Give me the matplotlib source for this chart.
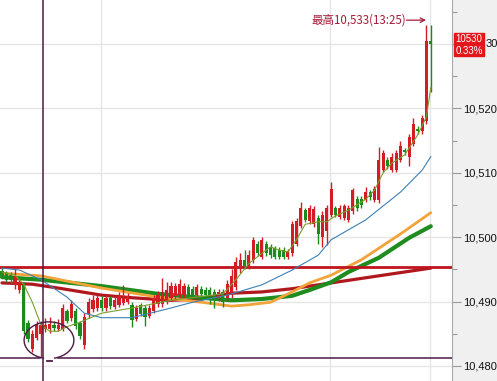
import matplotlib
matplotlib.use('Agg')
import matplotlib.pyplot as plt
from matplotlib.patches import Arc, Rectangle
import numpy as np

# ---------------- data ----------------
opens = [10494.8, 10494.5, 10494.2, 10492.6, 10491.8, 10492.6, 10486.6, 10482.6, 10484.4, 10485.0,
         10485.8, 10485.7, 10486.4, 10485.8, 10485.8, 10488.5, 10487.4, 10488.6, 10486.6, 10483.2,
         10488.0, 10488.8, 10489.0, 10490.3, 10489.0, 10490.5, 10489.2, 10489.5, 10489.8, 10490.0,
         10489.5, 10487.3, 10489.4, 10489.0, 10487.8, 10488.6, 10489.6, 10489.6, 10490.0, 10490.5,
         10490.8, 10491.0, 10491.0, 10492.3, 10492.0, 10491.0, 10492.0, 10491.8, 10491.8, 10491.5,
         10490.5, 10491.5, 10490.5, 10491.0, 10492.2, 10495.0, 10496.5, 10495.5, 10496.5, 10499.0,
         10497.0, 10499.0, 10498.5, 10498.3, 10498.0, 10498.0, 10497.0, 10497.5, 10499.0, 10501.8,
         10504.2, 10502.5, 10502.0, 10503.0, 10500.0, 10501.0, 10503.5, 10504.5, 10503.2, 10503.0,
         10502.7, 10504.0, 10506.0, 10506.0, 10505.8, 10507.0, 10505.8, 10505.7, 10510.5, 10512.0,
         10510.5, 10510.5, 10512.0, 10513.5, 10512.5, 10514.5, 10516.8, 10516.5, 10518.0, 10530.5]
closes = [10494.0, 10493.4, 10493.3, 10494.0, 10492.9, 10485.5, 10484.2, 10485.0, 10486.5, 10486.4,
          10486.3, 10486.5, 10485.9, 10486.4, 10489.0, 10487.0, 10489.6, 10486.2, 10484.6, 10487.6,
          10490.0, 10490.2, 10490.5, 10489.0, 10490.5, 10489.3, 10490.3, 10490.8, 10490.6, 10490.8,
          10487.2, 10489.0, 10488.1, 10487.6, 10489.0, 10490.5, 10491.0, 10491.5, 10491.8, 10492.4,
          10492.4, 10492.7, 10492.4, 10491.0, 10490.8, 10492.2, 10491.2, 10491.0, 10490.8, 10490.3,
          10491.5, 10490.0, 10492.8, 10494.0, 10496.2, 10496.5, 10495.5, 10497.2, 10499.5, 10497.5,
          10499.5, 10497.5, 10497.2, 10497.0, 10497.0, 10497.0, 10497.8, 10502.0, 10502.5, 10504.6,
          10502.7, 10504.5, 10504.3, 10500.5, 10503.5, 10504.5, 10507.5, 10503.5, 10504.5, 10504.8,
          10504.5, 10507.3, 10504.5, 10505.0, 10507.0, 10506.2, 10507.5, 10512.0, 10513.0, 10511.0,
          10512.5, 10513.0, 10514.2, 10513.2, 10515.5, 10517.5, 10516.5, 10518.5, 10530.5, 10530.0]
highs = [10495.3, 10494.8, 10494.6, 10495.0, 10493.5, 10493.0, 10487.2, 10485.6, 10487.0, 10487.0,
         10487.4, 10487.6, 10487.0, 10487.3, 10489.6, 10488.9, 10490.2, 10489.0, 10487.0, 10488.2,
         10490.6, 10491.0, 10491.0, 10490.8, 10491.0, 10490.9, 10490.8, 10491.5, 10492.6, 10491.3,
         10490.0, 10489.5, 10489.8, 10489.4, 10489.5, 10491.0, 10491.6, 10493.6, 10493.0, 10493.0,
         10492.9, 10493.5, 10492.9, 10492.7, 10492.4, 10492.8, 10492.4, 10492.2, 10492.2, 10491.9,
         10492.0, 10491.9, 10493.3, 10495.0, 10497.0, 10497.5, 10498.0, 10498.0, 10500.0, 10499.4,
         10500.0, 10499.4, 10498.9, 10498.7, 10498.4, 10498.4, 10498.2, 10502.5, 10503.0, 10505.5,
         10504.6, 10505.0, 10504.8, 10503.4, 10504.0, 10505.0, 10508.5, 10504.9, 10505.0, 10505.2,
         10505.0, 10507.7, 10506.4, 10506.4, 10507.8, 10507.4, 10508.0, 10514.0, 10513.6, 10512.4,
         10513.0, 10513.5, 10515.0, 10513.9, 10516.0, 10518.5, 10517.2, 10519.0, 10533.0, 10533.0]
lows = [10493.6, 10493.0, 10492.8, 10492.0, 10491.3, 10485.0, 10483.8, 10482.2, 10484.0, 10481.4,
        10485.3, 10485.2, 10485.4, 10485.4, 10485.4, 10486.6, 10487.0, 10485.8, 10484.2, 10482.6,
        10487.5, 10488.4, 10488.6, 10488.6, 10488.6, 10488.9, 10488.8, 10489.2, 10489.4, 10489.6,
        10486.0, 10487.0, 10487.8, 10486.2, 10487.4, 10488.2, 10489.2, 10489.2, 10489.7, 10490.2,
        10490.4, 10490.6, 10490.6, 10490.6, 10490.4, 10490.6, 10490.8, 10490.6, 10489.6, 10489.0,
        10490.1, 10489.2, 10490.1, 10490.6, 10491.8, 10494.5, 10495.0, 10495.0, 10496.0, 10497.1,
        10496.6, 10497.1, 10496.8, 10496.6, 10496.6, 10496.6, 10496.6, 10497.1, 10498.6, 10501.4,
        10502.3, 10502.1, 10501.6, 10499.0, 10498.5, 10498.8, 10503.1, 10503.1, 10502.8, 10502.6,
        10502.3, 10503.6, 10504.1, 10504.6, 10505.4, 10505.8, 10505.4, 10505.3, 10510.1, 10510.6,
        10510.1, 10510.1, 10511.6, 10512.8, 10511.0, 10514.1, 10516.1, 10516.1, 10517.6, 10522.5]

# moving-average lines: candle index -> value
ma_short_idx = [0, 3, 5, 7, 9, 11, 13, 15, 18, 23, 30, 39, 46, 51, 54, 57, 60, 62, 64, 66, 68, 70,
                73, 75, 77, 80, 84, 86, 88, 90, 93, 96, 98, 99]
ma_short_val = [10494.6, 10494.1, 10492.7, 10489.9, 10486.4, 10485.4, 10485.4, 10486.1, 10486.8,
                10488.2, 10489.0, 10490.2, 10490.8, 10491.2, 10493.4, 10495.9, 10497.5, 10498.5,
                10498.0, 10497.7, 10499.6, 10502.0, 10502.4, 10502.4, 10503.3, 10504.2, 10505.9,
                10507.3, 10510.0, 10511.5, 10512.8, 10515.9, 10518.7, 10523.2]
ma_blue_idx = [0, 4, 9, 15, 19, 23, 30, 39, 44, 52, 60, 67, 73, 76, 84, 92, 97, 99]
ma_blue_val = [10495.2, 10494.9, 10493.4, 10490.7, 10488.2, 10487.5, 10487.5, 10489.0, 10489.9,
               10491.0, 10492.6, 10494.9, 10497.2, 10499.6, 10502.7, 10507.0, 10510.4, 10512.5]
ma_orange_idx = [0, 9, 23, 36, 46, 53, 57, 62, 67, 71, 76, 83, 92, 99]
ma_orange_val = [10494.4, 10494.0, 10492.1, 10490.7, 10489.9, 10489.3, 10489.5, 10489.9, 10491.5,
                 10492.9, 10494.1, 10496.5, 10500.5, 10503.8]
ma_green_idx = [0, 9, 23, 36, 46, 53, 60, 67, 71, 76, 80, 87, 94, 99]
ma_green_val = [10493.8, 10493.4, 10492.4, 10491.2, 10490.6, 10490.2, 10490.4, 10490.9, 10491.8,
                10493.0, 10494.6, 10496.8, 10499.9, 10501.7]
ma_red_idx = [0, 7, 13, 23, 30, 39, 46, 53, 60, 67, 76, 87, 96, 99]
ma_red_val = [10492.9, 10492.7, 10492.1, 10491.0, 10490.6, 10490.2, 10490.4, 10491.3, 10491.5,
              10492.0, 10492.9, 10494.0, 10494.9, 10495.2]

level_line = 10495.4      # red horizontal line
support_line = 10481.2    # purple horizontal line
high_label = '最高10,533(13:25)'
last_price = '10530'
last_change = '0.33%'
y_ticks = [10480, 10490, 10500, 10510, 10520, 10530]
y_minor = [10485, 10495, 10505, 10515, 10525, 10535]

# ---------------- styling ----------------
RED = '#d41c24'
GREEN = '#1d8a1d'
PURPLE = '#4e1a42'
W, H = 497, 381
fig = plt.figure(figsize=(W / 100, H / 100), dpi=100, facecolor='#f0f0f0')
ax = fig.add_axes([0, 0, 452 / W, 1])
ax.set_facecolor('white')

n = len(opens)
x = np.arange(n)
o = np.array(opens); c = np.array(closes); h = np.array(highs); l = np.array(lows)
up = c >= o
colors = np.where(up, RED, GREEN)

# ticks / grid
ax.set_yticks(y_ticks)
ax.set_yticks(y_minor, minor=True)
ax.set_xticks([])
ax.grid(axis='y', which='major', color='#e6e6e6', lw=1.0, zorder=0)
for gx in [22.86, 75.75, 98.85]:
    ax.axvline(gx, color='#e6e6e6', lw=1.0, zorder=0)

# moving averages
ax.plot(ma_red_idx, ma_red_val, color='#b0181e', lw=2.3, zorder=2, solid_capstyle='round')
ax.plot(ma_green_idx, ma_green_val, color='#1e8c1e', lw=3.0, zorder=2, solid_capstyle='round')
ax.plot(ma_orange_idx, ma_orange_val, color='#f2a33a', lw=2.0, zorder=2, solid_capstyle='round')
ax.plot(ma_blue_idx, ma_blue_val, color='#3d80b5', lw=0.8, zorder=4)
ax.plot(ma_short_idx, ma_short_val, color='#7ba02a', lw=0.8, zorder=4)

# level lines
ax.axhline(level_line, color='#c0141e', lw=2.0, zorder=3)
ax.axvline(9.47, color=PURPLE, lw=1.1, zorder=5)
ax.plot([-0.46, 8.8], [support_line, support_line], color=PURPLE, lw=1.1, zorder=5)
ax.plot([12.9, 103.9], [support_line, support_line], color=PURPLE, lw=1.1, zorder=5)
ax.plot([10.3, 11.5], [support_line - 0.35, support_line - 0.35], color=PURPLE, lw=1.3, zorder=5)
ax.add_patch(Arc((10.85, 10484.0), 11.5, 5.7, theta1=292, theta2=248,
                 color=PURPLE, lw=1.0, zorder=5))

# candles
ax.vlines(x, l, h, colors=colors, lw=1.0, zorder=3)
body_h = np.maximum(np.abs(c - o), 0.15)
ax.bar(x, body_h, bottom=np.minimum(o, c), width=0.74, color=colors, zorder=3, linewidth=0)

# limits (set last so nothing expands them)
ax.set_xlim(-0.46, 103.9)
ax.set_ylim(10477.67, 10536.83)

# high annotation
hi_i = int(np.argmax(h))
ann_y = h[hi_i] + 0.7
txt_col = '#a81c38'
ax.annotate('', xy=(hi_i - 0.1, ann_y), xytext=(hi_i - 4.6, ann_y),
            arrowprops=dict(arrowstyle='->', color=txt_col, lw=0.9, shrinkA=0, shrinkB=0,
                            mutation_scale=8), zorder=6)
ax.text(hi_i - 4.75, ann_y, high_label, ha='right', va='center', fontsize=8.3,
        color=txt_col, family=['Noto Sans CJK TC', 'DejaVu Sans'], zorder=6)

# right axis
for s in ['top', 'left', 'bottom']:
    ax.spines[s].set_visible(False)
ax.spines['right'].set_color('#a8a8a8')
ax.yaxis.tick_right()
# the 10,530 label is mostly covered by the last-price box: only its tail shows
ax.set_yticklabels([f'{v:,}' if v != 10530 else '' for v in y_ticks])
ax.tick_params(axis='y', which='major', direction='out', length=6.5, width=0.8,
               colors='#9a9a9a', labelcolor='#111111', labelsize=8.0, pad=1.5)
ax.tick_params(axis='y', which='minor', direction='out', length=3.5, width=0.8, colors='#9a9a9a')
for lab in ax.get_yticklabels():
    lab.set_family(['Liberation Sans', 'DejaVu Sans'])

# last-price box
fig.patches.append(Rectangle((454 / W, 1 - 56 / H), 30 / W, 23 / H, transform=fig.transFigure,
                             color='#e3161c', zorder=10))
fig.text(469 / W, 1 - 39.5 / H, last_price, ha='center', va='center', color='white',
         fontsize=7.0, family=['Liberation Sans', 'DejaVu Sans'], zorder=11)
fig.text(469 / W, 1 - 50.5 / H, last_change, ha='center', va='center', color='white',
         fontsize=7.0, family=['Liberation Sans', 'DejaVu Sans'], zorder=11)
fig.text(485.5 / W, ax.transData.transform((0, 10530))[1] / H, f'{10530:,}'[-2:],
         ha='left', va='center', color='#111111', fontsize=8.0,
         family=['Liberation Sans', 'DejaVu Sans'])

fig.savefig('out.png', dpi=100, facecolor=fig.get_facecolor())
